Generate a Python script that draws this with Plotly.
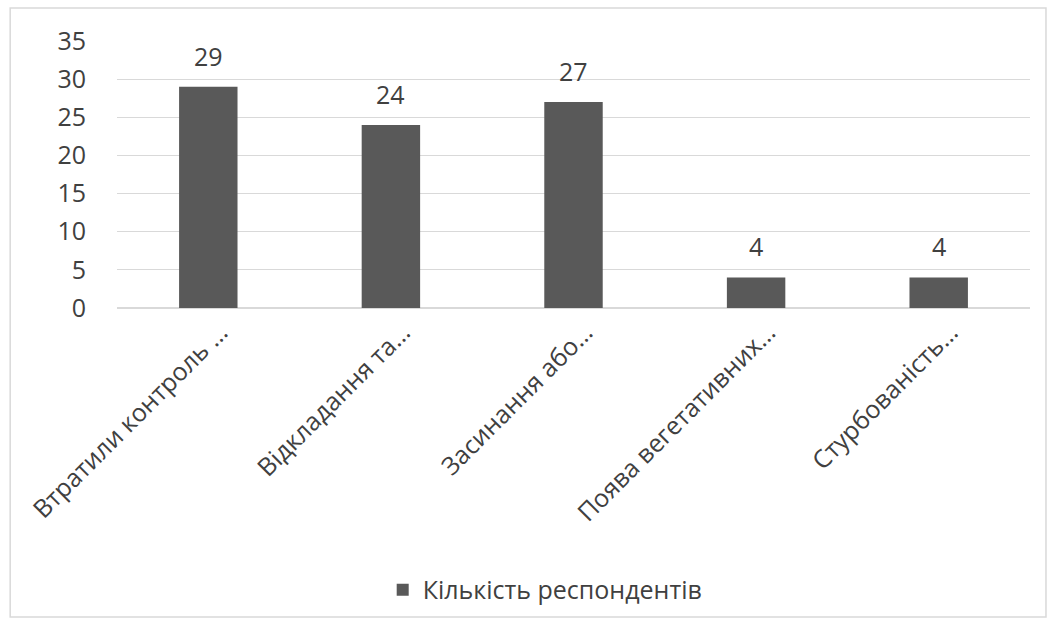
import plotly.graph_objects as go

categories = ["Втратили контроль …", "Відкладання та…", "Засинання або…",
              "Поява вегетативних…", "Стурбованість…"]
values = [29, 24, 27, 4, 4]
series_name = "Кількість респондентів"
y_ticks = [0, 5, 10, 15, 20, 25, 30, 35]

FONT = "Open Sans"
TXT = "#404040"

fig = go.Figure()
fig.add_trace(go.Bar(
    x=categories, y=values, name=series_name,
    marker=dict(color="#595959", line=dict(width=0)),
    cliponaxis=False,
))

for c, v in zip(categories, values):
    fig.add_annotation(x=c, y=v, text=str(v), showarrow=False, yanchor="bottom",
                       yshift=12, font=dict(family=FONT, size=25, color=TXT))

fig.update_layout(
    width=1059, height=626,
    margin=dict(l=117, r=29, t=41, b=318),
    paper_bgcolor="white", plot_bgcolor="white",
    bargap=0.68,
    showlegend=True,
    legend=dict(orientation="h", x=0.469, xanchor="center", y=-1.056, yanchor="middle",
                font=dict(family=FONT, size=25, color=TXT)),
    font=dict(family=FONT, size=25, color=TXT),
    xaxis=dict(tickangle=-45, showgrid=False, showline=False, ticks="",
               ticklabelshift=12, ticklabelstandoff=4,
               tickfont=dict(family=FONT, size=25, color=TXT)),
    yaxis=dict(range=[0, 35], tickvals=y_ticks, showgrid=True, gridcolor="#d9d9d9",
               gridwidth=1, zeroline=True, zerolinecolor="#d9d9d9", showline=False,
               ticks="", ticklabelstandoff=30,
               tickfont=dict(family=FONT, size=25, color=TXT)),
    shapes=[dict(type="rect", xref="paper", yref="paper",
                 x0=-0.117, x1=1.0175, y0=-1.157, y1=1.124,
                 line=dict(color="#d9d9d9", width=1.5), fillcolor="rgba(0,0,0,0)",
                 layer="below")],
)

fig.write_html("out.html")
